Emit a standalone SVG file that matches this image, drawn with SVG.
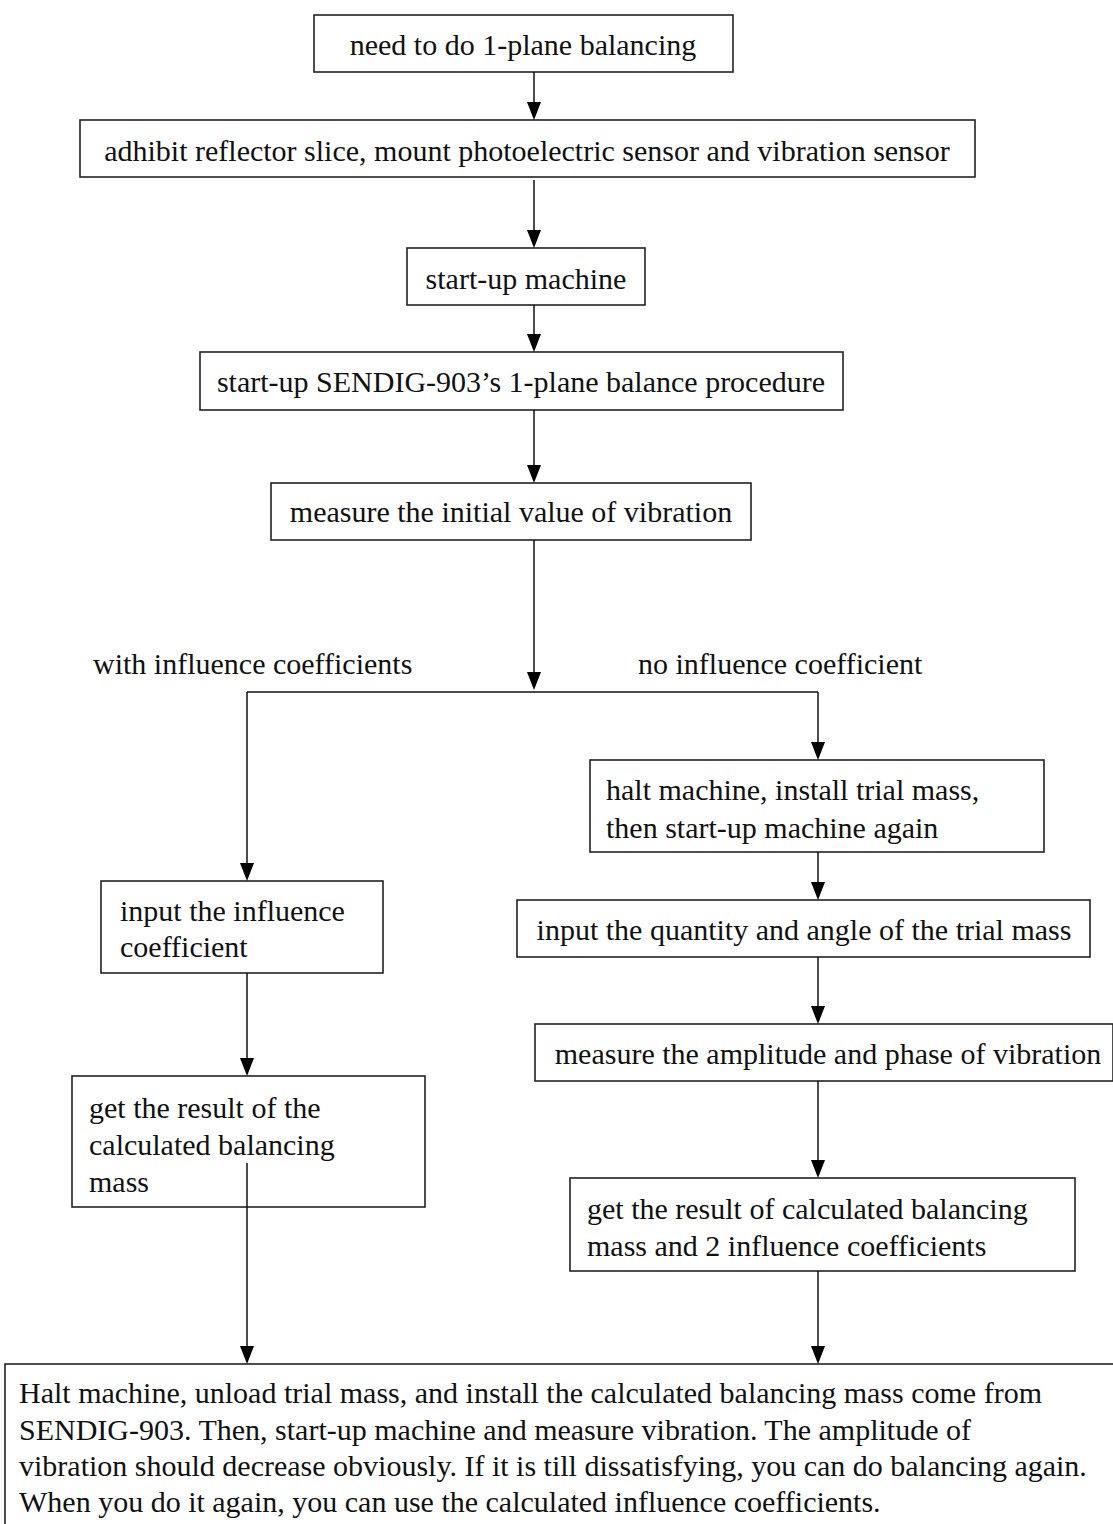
<svg xmlns="http://www.w3.org/2000/svg" width="1113" height="1524" viewBox="0 0 1113 1524">
<defs>
<style>
.box{fill:#fff;stroke:#222;stroke-width:1.6}
.t{font-family:"Liberation Serif","Times New Roman",serif;font-size:30px;fill:#111}
.c{text-anchor:middle}
.ln{stroke:#111;stroke-width:1.5;fill:none}
.ah{fill:#000}
</style>
</defs>
<rect width="1113" height="1524" fill="#fff"/>
<g id="n1"><rect class="box" x="314" y="15" width="419" height="57"/><text class="t c" x="523" y="55">need to do 1-plane balancing</text></g>
<g id="n2"><rect class="box" x="80" y="120" width="895" height="57"/><text class="t c" x="527" y="161">adhibit reflector slice, mount photoelectric sensor and vibration sensor</text></g>
<g id="n3"><rect class="box" x="407" y="248" width="238" height="57"/><text class="t c" x="526" y="289">start-up machine</text></g>
<g id="n4"><rect class="box" x="200" y="352" width="643" height="58"/><text class="t c" x="521" y="392">start-up SENDIG-903’s 1-plane balance procedure</text></g>
<g id="n5"><rect class="box" x="271" y="483" width="480" height="57"/><text class="t c" x="511" y="522">measure the initial value of vibration</text></g>
<g id="lbl1"><text class="t" x="93" y="674">with influence coefficients</text></g>
<g id="lbl2"><text class="t" x="638" y="674">no influence coefficient</text></g>
<g id="r1"><rect class="box" x="590" y="760" width="454" height="92"/><text class="t" x="606" y="800">halt machine, install trial mass,</text><text class="t" x="606" y="838">then start-up machine again</text></g>
<g id="l1"><rect class="box" x="101" y="881" width="282" height="92"/><text class="t" x="120" y="921">input the influence</text><text class="t" x="120" y="957">coefficient</text></g>
<g id="r2"><rect class="box" x="517" y="900" width="573" height="57"/><text class="t c" x="804" y="940">input the quantity and angle of the trial mass</text></g>
<g id="r3"><rect class="box" x="535" y="1024" width="578" height="57"/><text class="t c" x="828" y="1064">measure the amplitude and phase of  vibration</text></g>
<g id="l2"><rect class="box" x="72" y="1076" width="353" height="131"/><text class="t" x="89" y="1118">get the result of the</text><text class="t" x="89" y="1155">calculated balancing</text><text class="t" x="89" y="1192">mass</text></g>
<g id="r4"><rect class="box" x="570" y="1178" width="505" height="93"/><text class="t" x="587" y="1219">get the result of calculated balancing</text><text class="t" x="587" y="1256">mass and 2 influence coefficients</text></g>
<g id="n6"><rect class="box" x="5" y="1364" width="1110" height="165"/>
<text class="t" x="19" y="1403">Halt machine, unload trial mass, and install the calculated balancing mass come from</text>
<text class="t" x="19" y="1440">SENDIG-903. Then, start-up machine and measure vibration. The amplitude of</text>
<text class="t" x="19" y="1476">vibration should decrease obviously. If it is till dissatisfying, you can do balancing again.</text>
<text class="t" x="19" y="1512">When you do it again, you can use the calculated influence coefficients.</text>
</g>
<g id="connectors">
<path class="ln" d="M534,72V104"/><path class="ah" d="M527,102h14l-7,18z"/>
<path class="ln" d="M534,180V232"/><path class="ah" d="M527,230h14l-7,18z"/>
<path class="ln" d="M534,305V336"/><path class="ah" d="M527,334h14l-7,18z"/>
<path class="ln" d="M534,410V467"/><path class="ah" d="M527,465h14l-7,18z"/>
<path class="ln" d="M534,540V674"/><path class="ah" d="M527,672h14l-7,18z"/>
<path class="ln" d="M247,692H818"/>
<path class="ln" d="M818,692V744"/><path class="ah" d="M811,742h14l-7,18z"/>
<path class="ln" d="M247,692V865"/><path class="ah" d="M240,863h14l-7,18z"/>
<path class="ln" d="M818,852V884"/><path class="ah" d="M811,882h14l-7,18z"/>
<path class="ln" d="M818,957V1008"/><path class="ah" d="M811,1006h14l-7,18z"/>
<path class="ln" d="M247,973V1060"/><path class="ah" d="M240,1058h14l-7,18z"/>
<path class="ln" d="M818,1081V1162"/><path class="ah" d="M811,1160h14l-7,18z"/>
<path class="ln" d="M247,1163V1348"/><path class="ah" d="M240,1346h14l-7,18z"/>
<path class="ln" d="M818,1271V1348"/><path class="ah" d="M811,1346h14l-7,18z"/>
</g>
</svg>
